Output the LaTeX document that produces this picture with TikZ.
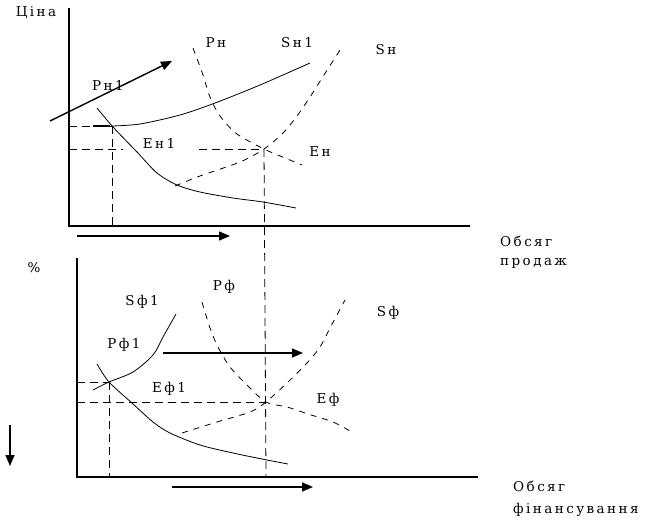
\documentclass[tikz,border=0pt]{standalone}
\usepackage{fontspec}
\setmainfont{DejaVu Serif}
\newfontfamily\lblfont{DejaVu Serif}[LetterSpace=18]
\usetikzlibrary{arrows.meta}

\begin{document}
\begin{tikzpicture}[x=1pt, y=-1pt,
    axis/.style={line width=1.4pt},
    curve/.style={line width=0.8pt},
    dcurve/.style={line width=0.8pt, dash pattern=on 6pt off 6pt},
    guide/.style={line width=0.8pt, dash pattern=on 8pt off 5pt},
    shiftarrow/.style={line width=1.4pt, -{Triangle[length=11pt,width=9pt]}},
    lbl/.style={font=\lblfont\fontsize{13.5}{19}\selectfont, inner sep=0pt}]

    \useasboundingbox (0,0) rectangle (650,519);

    % =================================================================
    % PANEL 1: RYNOK PRODAZHIV (ZVERKHU)
    % =================================================================
    \begin{scope}
        % Osi
        \draw[axis] (69,8) -- (69,226) -- (470,226);
        \node[lbl] (price) at (36,13) {Ціна};
        \node[lbl, anchor=north west, align=left] (sales) at (500,236) {Обсяг\\продаж};

        % Tochky rivnovahy
        \coordinate (E1t) at (112,126);
        \coordinate (Et) at (264,149);

        % Pryvidni linii (net pererivnyi)
        \draw[guide] (69,126) -- (E1t);
        \draw[line width=2.4pt] (93,126) -- (110,126);
        \draw[guide] (E1t) -- (E1t |- 0,226);
        \draw[guide] (69,149) -- (Et);
        \draw[guide] (Et) -- (266,477);

        % pidpys na bilomu tli, shchob perekryty liniiu
        \node[lbl, fill=white, inner xsep=20pt, inner ysep=2pt] (En1) at (159,143) {Ен1};

        % Kryvi popytu ta propozytsii
        \draw[curve] plot[smooth] coordinates {(97,108) (113,127) (137,152) (157,173) (177,185) (200,192) (233,198) (263,202) (296,208)};
        \draw[curve] plot[smooth] coordinates {(112,126) (140,124) (180,115) (215,103) (260,85) (310,63)};
        \draw[dcurve] plot[smooth] coordinates {(193,48) (203,75) (210,97) (220,116) (237,134) (Et) (285,158) (302,165)};
        \draw[dcurve] plot[smooth] coordinates {(175,186) (200,176) (240,162) (Et) (283,133) (297,116) (310,97) (324,75) (340,50)};

        % Strilky zsuvu
        \draw[shiftarrow] (50,121) -- (172,61);
        \draw[shiftarrow] (77,236) -- (230,236);

        % Pidpysy
        \node[lbl] (Pn1) at (108,85) {Рн1};
        \node[lbl] (Pn) at (216,43) {Рн};
        \node[lbl] (Sn1) at (297,43) {Sн1};
        \node[lbl] (Sn) at (386,50) {Sн};
        \node[lbl] (En) at (320,152) {Ен};
    \end{scope}

    % =================================================================
    % PANEL 2: RYNOK FINANSUVANNIA (ZNYZU)
    % =================================================================
    \begin{scope}
        % Osi
        \draw[axis] (77,258) -- (77,477) -- (478,477);
        \node[lbl] (pct) at (34,268) {\%};
        \node[lbl, anchor=north west, align=left, font=\lblfont\fontsize{13.5}{22}\selectfont] (funding) at (513,481) {Обсяг\\фінансування};

        % Tochky rivnovahy
        \coordinate (E1b) at (109,382);
        \coordinate (Eb) at (266,402);

        % Pryvidni linii
        \draw[guide] (77,382) -- (E1b);
        \draw[guide] (E1b) -- (E1b |- 0,477);
        \draw[guide] (77,402) -- (Eb);

        % Kryvi
        \draw[curve] plot[smooth] coordinates {(93,390) (E1b) (133,372) (153,355) (163,337) (176,314)};
        \draw[curve] plot[smooth] coordinates {(97,364) (E1b) (132,403) (153,422) (170,433) (200,445) (233,453) (267,460) (288,464)};
        \draw[dcurve] plot[smooth] coordinates {(202,302) (210,328) (218,347) (230,367) (247,385) (Eb) (287,407) (308,414) (333,422) (350,431)};
        \draw[dcurve] plot[smooth] coordinates {(182,433) (217,422) (250,412) (Eb) (287,383) (307,363) (320,347) (330,328) (345,300)};

        % Strilky zsuvu
        \draw[shiftarrow] (163,353) -- (303,353);
        \draw[shiftarrow] (172,487) -- (313,487);
        \draw[shiftarrow] (10,425) -- (10,466);

        % Pidpysy
        \node[lbl] (Sf1) at (142,302) {Sф1};
        \node[lbl] (Pf) at (224,287) {Рф};
        \node[lbl] (Sf) at (388,313) {Sф};
        \node[lbl] (Pf1) at (124,345) {Рф1};
        \node[lbl] (Ef1) at (169,389) {Еф1};
        \node[lbl] (Ef) at (328,400) {Еф};
    \end{scope}

\end{tikzpicture}
\end{document}
